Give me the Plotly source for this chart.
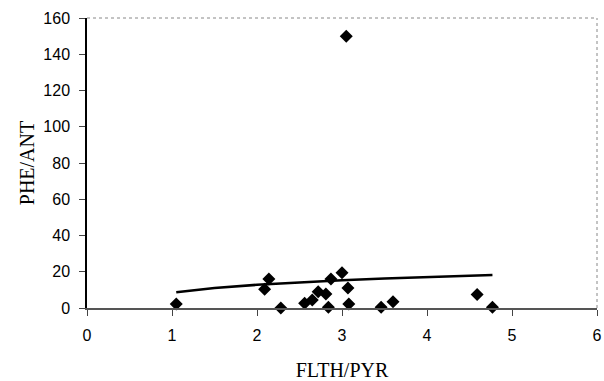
import plotly.graph_objects as go

flth_pyr = [1.05, 2.09, 2.14, 2.28, 2.56, 2.65, 2.72, 2.81, 2.84, 2.87, 3.00, 3.05, 3.07, 3.08, 3.46, 3.60, 4.59, 4.77]
phe_ant  = [2.2, 10.3, 16.0, 0.0, 2.6, 4.4, 9.0, 7.7, 0.4, 16.0, 19.5, 150.0, 11.0, 2.2, 0.4, 3.5, 7.5, 0.4]

trend_x = [1.05, 1.5, 2.0, 2.5, 3.0, 3.5, 4.0, 4.5, 4.77]
trend_y = [8.7, 11.0, 12.8, 14.2, 15.3, 16.3, 17.1, 17.8, 18.2]

x_ticks = [0, 1, 2, 3, 4, 5, 6]
y_ticks = [0, 20, 40, 60, 80, 100, 120, 140, 160]

fig = go.Figure()
fig.add_trace(go.Scatter(x=trend_x, y=trend_y, mode="lines",
                         line=dict(color="black", width=2.5), showlegend=False,
                         cliponaxis=False))
fig.add_trace(go.Scatter(x=flth_pyr, y=phe_ant, mode="markers",
                         marker=dict(symbol="diamond", size=10, color="black"),
                         showlegend=False, cliponaxis=False))

fig.update_layout(
    width=604, height=381,
    margin=dict(l=87, r=7, t=18, b=73, autoexpand=False),
    paper_bgcolor="white", plot_bgcolor="white",
    font=dict(family="Liberation Sans, Arial", size=16, color="black"),
    xaxis=dict(range=[0, 6], tickvals=x_ticks, ticks="outside", ticklen=6,
               tickcolor="#444", showline=True, linecolor="#555", linewidth=1.5,
               showgrid=False, zeroline=False, ticklabelstandoff=6, automargin=False,
               title=dict(text="FLTH/PYR", standoff=20,
                          font=dict(family="Liberation Serif, Times New Roman", size=20))),
    yaxis=dict(range=[0, 160], tickvals=y_ticks, ticks="outside", ticklen=6,
               tickcolor="#444", showline=True, linecolor="black", linewidth=1.5,
               showgrid=False, zeroline=False, ticklabelstandoff=6, automargin=False,
               title=dict(text="PHE/ANT", standoff=3,
                          font=dict(family="Liberation Serif, Times New Roman", size=20))),
    shapes=[
        dict(type="line", xref="paper", yref="paper", x0=0, x1=1, y0=1, y1=1,
             line=dict(color="#888", width=1, dash="dot")),
        dict(type="line", xref="paper", yref="paper", x0=1, x1=1, y0=0, y1=1,
             line=dict(color="#888", width=1, dash="dot")),
    ],
)

fig.write_html("out.html", config={"displayModeBar": False},
               post_script="document.body.style.margin='0';")
